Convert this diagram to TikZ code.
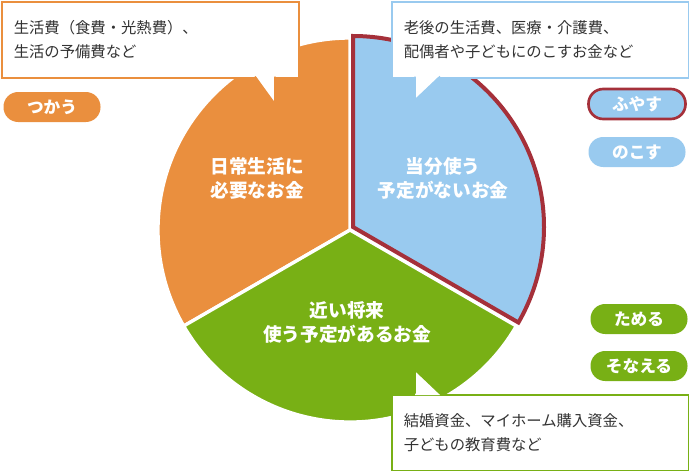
\documentclass[tikz,border=0pt]{standalone}
\usepackage{fontspec}
\setmainfont{Noto Sans CJK JP}
\definecolor{orangepie}{HTML}{EA8F3E}
\definecolor{bluepie}{HTML}{99CAEF}
\definecolor{greenpie}{HTML}{78B015}
\definecolor{redline}{HTML}{A5303A}
\definecolor{txtgray}{HTML}{333333}
\tikzset{
  callout/.style={draw=#1, line width=1.2pt, fill=white, anchor=north west,
    minimum width=297*0.75pt, minimum height=76*0.75pt, inner xsep=12*0.75pt,
    text width=273*0.75pt, align=left, text=txtgray,
    font=\fontsize{11.5}{18}\selectfont},
  pill/.style={fill=#1, rounded corners=11pt, minimum width=97*0.75pt,
    minimum height=30*0.75pt, text=white, font=\bfseries\fontsize{12.5}{14}\selectfont},
  slicetext/.style={text=white, align=center, font=\bfseries\fontsize{14}{18}\selectfont}
}
\begin{document}
\begin{tikzpicture}[x=0.75pt,y=-0.75pt]
\useasboundingbox (0,0) rectangle (689,471);

% Define the pie
\def\R{192}
\coordinate (ctr) at (350,230);
\coordinate (ctrb) at (353,227);

% Draw the slices
\fill[orangepie, draw=white, line width=2.5pt] (ctr) -- ++(-90:\R) arc[start angle=-90, end angle=-210, radius=\R] -- cycle;
\fill[greenpie, draw=white, line width=2.5pt] (ctr) -- ++(150:\R) arc[start angle=150, end angle=30, radius=\R] -- cycle;
\fill[white] (ctr) -- ++(-90:\R+4) arc[start angle=-90, end angle=30, radius=\R+4] -- cycle;
\filldraw[fill=bluepie, draw=redline, line width=3pt, line join=miter]
  (ctrb) -- ++(-90:\R-1) arc[start angle=-90, end angle=30, radius=\R-1] -- cycle;

\node[slicetext] (daily) at (257,178) {日常生活に\\必要なお金};
\node[slicetext] (spare) at (443,178) {当分使う\\予定がないお金};
\node[slicetext] (near) at (347,322) {近い将来\\使う予定があるお金};

% Callouts
\node[callout=orangepie] (use) at (1,1) {生活費（食費・光熱費）、\\生活の予備費など};
\fill[white] (255,75) -- (275,104) -- (275,75) -- cycle;
\draw[orangepie, line width=1.2pt] (255,76.5) -- (275,104) -- (275,76.5);

\node[callout=bluepie] (keep) at (391,1) {老後の生活費、医療・介護費、\\配偶者や子どもにのこすお金など};
\fill[white] (415,75) -- (415,100) -- (440,75) -- cycle;
\draw[bluepie, line width=1.2pt] (415,76.5) -- (415,100) -- (440,76.5);

\node[callout=greenpie] (save) at (391,394) {結婚資金、マイホーム購入資金、\\子どもの教育費など};
\fill[white] (415,395) -- (415,370) -- (440,395) -- cycle;
\draw[greenpie, line width=1.2pt] (415,393.5) -- (415,370) -- (440,393.5);

% Labels
\node[pill=orangepie] (tsukau) at (52,107) {つかう};
\node[pill=bluepie, draw=redline, line width=2pt] (fuyasu) at (637,104) {ふやす};
\node[pill=bluepie] (nokosu) at (637,152) {のこす};
\node[pill=greenpie] (tameru) at (639,319) {ためる};
\node[pill=greenpie] (sonaeru) at (639,366) {そなえる};

\end{tikzpicture}
\end{document}
